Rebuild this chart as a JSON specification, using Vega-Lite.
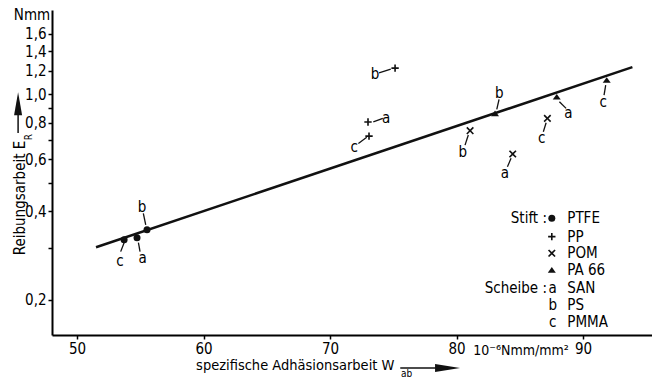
{
  "$schema": "https://vega.github.io/schema/vega-lite/v6.json",
  "width": 600,
  "height": 325,
  "autosize": {"type": "none"},
  "padding": {"left": 52, "top": 10, "right": 0, "bottom": 47},
  "background": "white",
  "config": {
    "view": {"stroke": null},
    "font": "DejaVu Sans Condensed, DejaVu Sans",
    "text": {"font": "DejaVu Sans Condensed, DejaVu Sans", "fontSize": 15, "color": "black", "baseline": "middle"},
    "axis": {
      "grid": false,
      "title": null,
      "domainColor": "black",
      "domainWidth": 2,
      "tickColor": "black",
      "tickWidth": 1.5,
      "tickSize": 4,
      "labelFont": "DejaVu Sans Condensed, DejaVu Sans",
      "labelFontSize": 15,
      "labelColor": "black",
      "labelPadding": 2,
      "labelOverlap": false,
      "labelFlush": false
    }
  },
  "datasets": {
    "fit": [{"x": 51.5, "y": 0.302}, {"x": 93.9, "y": 1.235}],
    "points": [
      {"stift": "PTFE", "scheibe": "c", "x": 53.72, "y": 0.320},
      {"stift": "PTFE", "scheibe": "a", "x": 54.74, "y": 0.325},
      {"stift": "PTFE", "scheibe": "b", "x": 55.53, "y": 0.346},
      {"stift": "PP", "scheibe": "b", "x": 75.14, "y": 1.225},
      {"stift": "PP", "scheibe": "a", "x": 73.0, "y": 0.804},
      {"stift": "PP", "scheibe": "c", "x": 73.08, "y": 0.720},
      {"stift": "POM", "scheibe": "b", "x": 81.07, "y": 0.751},
      {"stift": "POM", "scheibe": "c", "x": 87.18, "y": 0.827},
      {"stift": "POM", "scheibe": "a", "x": 84.44, "y": 0.626},
      {"stift": "PA66", "scheibe": "b", "x": 83.04, "y": 0.860},
      {"stift": "PA66", "scheibe": "a", "x": 87.92, "y": 0.979},
      {"stift": "PA66", "scheibe": "c", "x": 91.87, "y": 1.116}
    ],
    "labels": [
      {"t": "c", "x": 53.40, "y": 0.272},
      {"t": "a", "x": 55.19, "y": 0.277},
      {"t": "b", "x": 55.14, "y": 0.415},
      {"t": "b", "x": 73.56, "y": 1.169},
      {"t": "a", "x": 74.43, "y": 0.827},
      {"t": "c", "x": 71.90, "y": 0.659},
      {"t": "b", "x": 83.38, "y": 1.010},
      {"t": "a", "x": 88.84, "y": 0.860},
      {"t": "c", "x": 91.60, "y": 0.942},
      {"t": "b", "x": 80.49, "y": 0.637},
      {"t": "c", "x": 86.73, "y": 0.707},
      {"t": "a", "x": 83.83, "y": 0.541}
    ],
    "leaders": [
      {"x": 53.45, "y": 0.2917, "x2": 53.72, "y2": 0.3129},
      {"x": 54.98, "y": 0.2917, "x2": 54.85, "y2": 0.3129},
      {"x": 55.24, "y": 0.3937, "x2": 55.43, "y2": 0.3594},
      {"x": 73.87, "y": 1.181, "x2": 74.80, "y2": 1.216},
      {"x": 73.42, "y": 0.805, "x2": 74.17, "y2": 0.827},
      {"x": 72.24, "y": 0.680, "x2": 72.90, "y2": 0.713},
      {"x": 83.36, "y": 0.959, "x2": 83.18, "y2": 0.887},
      {"x": 88.13, "y": 0.942, "x2": 88.66, "y2": 0.894},
      {"x": 91.79, "y": 1.073, "x2": 91.66, "y2": 0.992},
      {"x": 80.93, "y": 0.726, "x2": 80.67, "y2": 0.671},
      {"x": 87.08, "y": 0.799, "x2": 86.86, "y2": 0.745},
      {"x": 84.31, "y": 0.605, "x2": 84.02, "y2": 0.567}
    ],
    "legendSym": [
      {"stift": "PTFE", "x": 87.53, "y": 0.3787},
      {"stift": "PP", "x": 87.53, "y": 0.328},
      {"stift": "POM", "x": 87.53, "y": 0.288},
      {"stift": "PA66", "x": 87.53, "y": 0.2529}
    ],
    "legendHead": [
      {"t": "Stift :", "x": 87.15, "y": 0.3787},
      {"t": "Scheibe :", "x": 87.15, "y": 0.2191}
    ],
    "legendLetters": [
      {"t": "a", "x": 87.60, "y": 0.2191},
      {"t": "b", "x": 87.60, "y": 0.1924},
      {"t": "c", "x": 87.60, "y": 0.1688}
    ],
    "legendNames": [
      {"t": "PTFE", "x": 88.75, "y": 0.3787},
      {"t": "PP", "x": 88.75, "y": 0.328},
      {"t": "POM", "x": 88.75, "y": 0.288},
      {"t": "PA 66", "x": 88.75, "y": 0.2529},
      {"t": "SAN", "x": 88.75, "y": 0.2191},
      {"t": "PS", "x": 88.75, "y": 0.1924},
      {"t": "PMMA", "x": 88.75, "y": 0.1688}
    ],
    "nmm": [{"t": "Nmm", "x": 46.44, "y": 1.854}],
    "unit": [{"t": "10⁻⁶Nmm/mm²", "x": 85.1, "y": 0.1343}],
    "xTitle": [{"t": "spezifische Adhäsionsarbeit W", "x": 59.41, "y": 0.1195}],
    "xSub": [{"t": "ab", "x": 75.6, "y": 0.1118}],
    "xArrow": [{"x": 75.55, "y": 0.1175, "x2": 79.0, "y2": 0.1175}],
    "xHead": [{"x": 79.29, "y": 0.1175}],
    "yTitle": [{"t": "Reibungsarbeit E", "x": 45.49, "y": 0.4437}],
    "ySub": [{"t": "R", "x": 46.2, "y": 0.7146}],
    "yArrow": [{"x": 45.34, "y": 0.737, "x2": 45.34, "y2": 0.90}],
    "yHead": [{"x": 45.34, "y": 0.928}]
  },
  "encoding": {
    "x": {
      "field": "x",
      "type": "quantitative",
      "scale": {"domain": [48.02, 95.45], "nice": false, "zero": false},
      "axis": {"values": [50, 60, 70, 80, 90], "format": "d"}
    },
    "y": {
      "field": "y",
      "type": "quantitative",
      "scale": {"type": "log", "domain": [0.152, 1.93], "nice": false},
      "axis": {
        "values": [0.2, 0.3, 0.4, 0.5, 0.6, 0.7, 0.8, 0.9, 1, 1.2, 1.4, 1.6],
        "labelExpr": "(datum.value == 0.3 || datum.value == 0.5 || datum.value == 0.7 || datum.value == 0.9) ? '' : replace(format(datum.value, '.1f'), '.', ',')"
      }
    }
  },
  "layer": [
    {
      "data": {"name": "fit"},
      "mark": {"type": "line", "color": "#111", "strokeWidth": 2.5}
    },
    {
      "data": {"name": "leaders"},
      "mark": {"type": "rule", "color": "#111", "strokeWidth": 1.3},
      "encoding": {"x2": {"field": "x2"}, "y2": {"field": "y2"}}
    },
    {
      "data": {"name": "points"},
      "mark": {"type": "point", "filled": true, "color": "#111", "opacity": 1},
      "encoding": {
        "shape": {
          "field": "stift",
          "type": "nominal",
          "scale": {
            "domain": ["PTFE", "PP", "POM", "PA66"],
            "range": ["circle", "M-1,-0.22H-0.22V-1H0.22V-0.22H1V0.22H0.22V1H-0.22V0.22H-1Z", "M-1,-0.7L-0.7,-1L0,-0.3L0.7,-1L1,-0.7L0.3,0L1,0.7L0.7,1L0,0.3L-0.7,1L-1,0.7L-0.3,0Z", "M-1,0.7L0,-0.7L1,0.7Z"]
          },
          "legend": null
        },
        "size": {
          "field": "stift",
          "type": "nominal",
          "scale": {"domain": ["PTFE", "PP", "POM", "PA66"], "range": [49, 64, 49, 81]},
          "legend": null
        }
      }
    },
    {
      "data": {"name": "legendSym"},
      "mark": {"type": "point", "filled": true, "color": "#111", "opacity": 1},
      "encoding": {
        "shape": {"field": "stift", "type": "nominal", "legend": null},
        "size": {"field": "stift", "type": "nominal", "legend": null}
      }
    },
    {
      "data": {"name": "labels"},
      "mark": {"type": "text", "align": "center"},
      "encoding": {"text": {"field": "t"}}
    },
    {
      "data": {"name": "legendHead"},
      "mark": {"type": "text", "align": "right"},
      "encoding": {"text": {"field": "t"}}
    },
    {
      "data": {"name": "legendLetters"},
      "mark": {"type": "text", "align": "center"},
      "encoding": {"text": {"field": "t"}}
    },
    {
      "data": {"name": "legendNames"},
      "mark": {"type": "text", "align": "left"},
      "encoding": {"text": {"field": "t"}}
    },
    {
      "data": {"name": "nmm"},
      "mark": {"type": "text", "align": "center"},
      "encoding": {"text": {"field": "t"}}
    },
    {
      "data": {"name": "unit"},
      "mark": {"type": "text", "align": "center", "fontSize": 14},
      "encoding": {"text": {"field": "t"}}
    },
    {
      "data": {"name": "xTitle"},
      "mark": {"type": "text", "align": "left", "fontSize": 14.5},
      "encoding": {"text": {"field": "t"}}
    },
    {
      "data": {"name": "xSub"},
      "mark": {"type": "text", "align": "left", "fontSize": 10},
      "encoding": {"text": {"field": "t"}}
    },
    {
      "data": {"name": "xArrow"},
      "mark": {"type": "rule", "color": "#111", "strokeWidth": 1.5},
      "encoding": {"x2": {"field": "x2"}, "y2": {"field": "y2"}}
    },
    {
      "data": {"name": "xHead"},
      "mark": {"type": "point", "filled": true, "color": "#111", "opacity": 1, "shape": "M-1,-0.32L1,0L-1,0.32Z", "size": 625}
    },
    {
      "data": {"name": "yTitle"},
      "mark": {"type": "text", "align": "center", "angle": 270},
      "encoding": {"text": {"field": "t"}}
    },
    {
      "data": {"name": "ySub"},
      "mark": {"type": "text", "align": "center", "angle": 270, "fontSize": 10},
      "encoding": {"text": {"field": "t"}}
    },
    {
      "data": {"name": "yArrow"},
      "mark": {"type": "rule", "color": "#111", "strokeWidth": 1.5},
      "encoding": {"x2": {"field": "x2"}, "y2": {"field": "y2"}}
    },
    {
      "data": {"name": "yHead"},
      "mark": {"type": "point", "filled": true, "color": "#111", "opacity": 1, "shape": "M-0.35,1L0,-1L0.35,1Z", "size": 529}
    }
  ]
}
